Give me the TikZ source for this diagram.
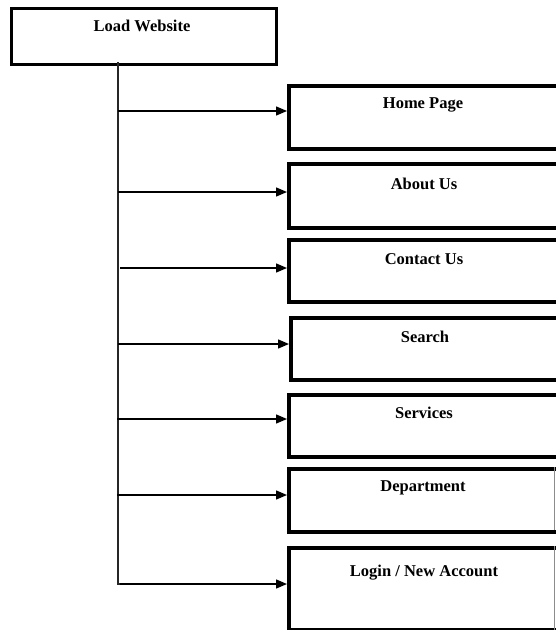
\documentclass[tikz,border=0pt]{standalone}
\usepackage{fontspec}
\setmainfont{Liberation Serif}
\usetikzlibrary{arrows.meta}
\begin{document}
\begin{tikzpicture}[x=1pt,y=-1pt,
  box/.style={draw=black,line width=4pt,anchor=north west,inner sep=0pt},
  topbox/.style={draw=black,line width=3.2pt,anchor=north west,inner sep=0pt},
  lbl/.style={font=\fontsize{16.5}{18}\selectfont\bfseries,anchor=center,inner sep=0pt},
  conn/.style={line width=1.4pt,-{Triangle[length=11pt,width=9pt]}},
  trunk/.style={line width=1.3pt,draw=black!85}]
\useasboundingbox (0,0) rectangle (556,630);
\clip (0,0) rectangle (556,630);
\fill[white] (0,0) rectangle (556,630);
% top box
\node[topbox,minimum width=265pt,minimum height=56pt] (load) at (9.5,6.5) {};
\node[lbl] (loadt) at (142,26) {Load Website};
% child boxes
\node[box,minimum width=280pt,minimum height=63pt] (home) at (287,84) {};
\node[box,minimum width=280pt,minimum height=64pt] (about) at (287,162) {};
\node[box,minimum width=280pt,minimum height=62pt] (contact) at (287,238) {};
\node[box,minimum width=280pt,minimum height=62pt] (search) at (289,316) {};
\node[box,minimum width=280pt,minimum height=62pt] (services) at (287,393) {};
\node[box,minimum width=272pt,minimum height=63pt] (dept) at (287,467) {};
\node[box,minimum width=272pt,minimum height=82pt] (login) at (287,546) {};
\draw[line width=0.8pt,draw=black!45] (554.5,467) -- (554.5,530);
\draw[line width=0.8pt,draw=black!45] (554.5,546) -- (554.5,630);
% labels
\node[lbl] (homet) at (423,105) {Home Page};
\node[lbl] (aboutt) at (424,184) {About Us};
\node[lbl] (contactt) at (424,259) {Contact Us};
\node[lbl] (searcht) at (425,337) {Search};
\node[lbl] (servicest) at (424,413) {Services};
\node[lbl] (deptt) at (423,488) {Department};
\node[lbl] (logint) at (424,573) {Login / New Account};
% connectors
\coordinate (t0) at (118,62);
\coordinate (c1) at (118,111);
\coordinate (c2) at (118,192);
\coordinate (c3) at (120,268);
\coordinate (c4) at (118,344);
\coordinate (c5) at (117,419);
\coordinate (c6) at (117,495);
\coordinate (c7) at (120,584);
\draw[trunk] (t0) -- (118,584) -- (c7);
\draw[conn] (c1) -- (c1 -| home.west);
\draw[conn] (c2) -- (c2 -| about.west);
\draw[conn] (c3) -- (c3 -| contact.west);
\draw[conn] (c4) -- (c4 -| search.west);
\draw[conn] (c5) -- (c5 -| services.west);
\draw[conn] (c6) -- (c6 -| dept.west);
\draw[conn] (c7) -- (c7 -| login.west);
\end{tikzpicture}
\end{document}
